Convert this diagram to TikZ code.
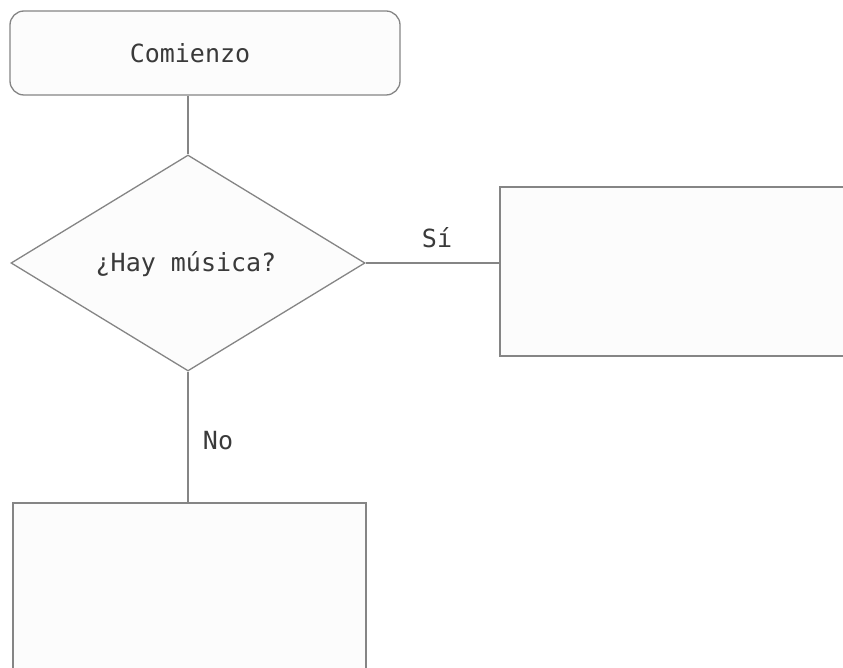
\documentclass[tikz,border=0pt]{standalone}
\usepackage{fontspec}
\setmonofont{DejaVu Sans Mono}
\usetikzlibrary{shapes.geometric}
\definecolor{edge}{HTML}{858585}
\definecolor{paper}{HTML}{FCFCFC}
\definecolor{ink}{HTML}{3A3A3A}
\tikzset{
  base/.style={draw=edge, line width=1.3pt, fill=paper, inner sep=0pt},
  terminal/.style={base, rectangle, rounded corners=14pt},
  decision/.style={base, diamond},
  process/.style={base, rectangle},
  link/.style={draw=edge, line width=1.3pt},
  txt/.style={text=ink, inner sep=0pt, font=\fontsize{25}{28}\selectfont\ttfamily},
}
\begin{document}
\begin{tikzpicture}[x=1pt,y=-1pt]
  \useasboundingbox (0,0) rectangle (843,668);
  \fill[white] (0,0) rectangle (843,668);

  % start terminal and its caption
  \node[terminal, minimum width=390pt, minimum height=84pt] (start) at (205,53) {};
  \node[txt] (startlbl) at (190,53) {Comienzo};
  % decision and its question
  \node[decision, minimum width=354pt, minimum height=216pt] (dec) at (188,263) {};
  \node[txt] (question) at (186,264) {¿Hay música?};
  % branch boxes (they run past the page edge)
  \node[process, minimum width=360pt, minimum height=169pt] (yes) at (680,271.5) {};
  \node[process, minimum width=353pt, minimum height=190pt] (no) at (189.5,598) {};

  % connectors
  \draw[link] (dec.north |- start.south) -- (dec.north);
  \draw[link] (dec.east) -- (dec.east -| yes.west);
  \draw[link] (dec.south) -- (dec.south |- no.north);

  % branch labels
  \node[txt] (si) at (437,238) {Sí};
  \node[txt] (nolab) at (218,441) {No};
\end{tikzpicture}
\end{document}
